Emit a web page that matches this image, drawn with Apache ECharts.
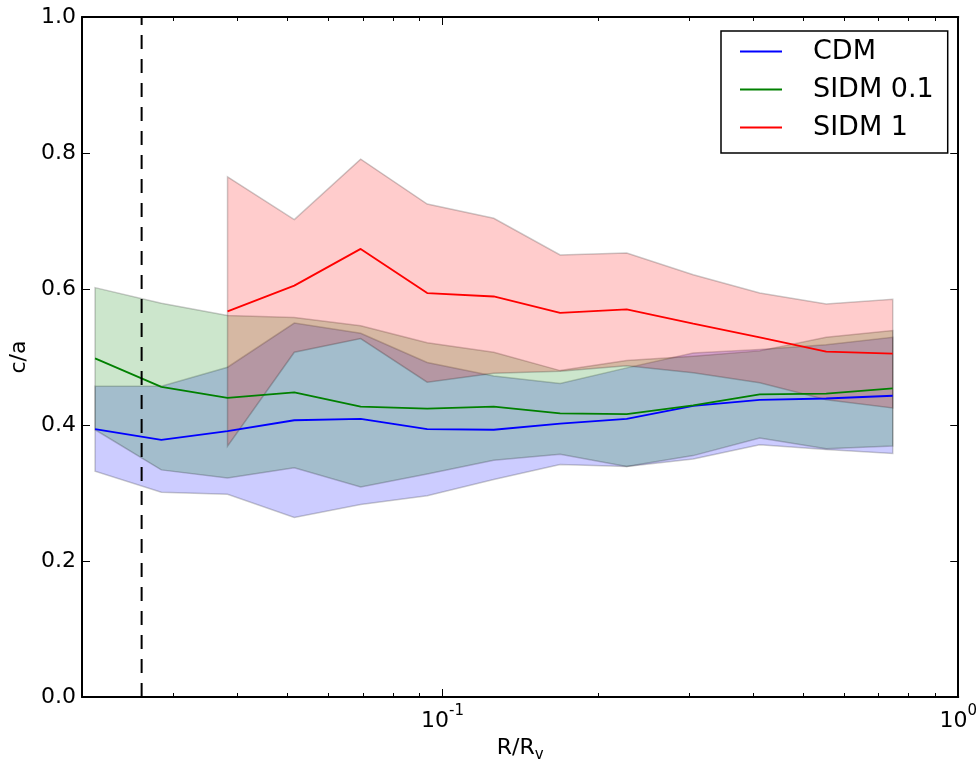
<!DOCTYPE html>
<html>
<head>
<meta charset="utf-8">
<script src="https://cdn.jsdelivr.net/npm/echarts@6/dist/echarts.min.js"></script>
<style>
  html, body { margin: 0; padding: 0; background: #ffffff; }
  #chart { width: 980px; height: 769px; }
</style>
</head>
<body>
<div id="chart"></div>
<script>
// Radial bins (R / R_v) shared by all three models
const radius = [0.0212, 0.0285, 0.0383, 0.0516, 0.0694, 0.0934, 0.1257, 0.1691, 0.2276, 0.3063, 0.4122, 0.5547, 0.7465];

// CDM: median c/a and scatter band
const cdmMedian = [0.394, 0.378, 0.391, 0.407, 0.409, 0.394, 0.393, 0.402, 0.409, 0.428, 0.437, 0.439, 0.443];
const cdmLower  = [0.332, 0.301, 0.298, 0.264, 0.283, 0.296, 0.320, 0.342, 0.339, 0.350, 0.371, 0.364, 0.358];
const cdmUpper  = [0.457, 0.457, 0.485, 0.550, 0.535, 0.492, 0.472, 0.461, 0.484, 0.506, 0.511, 0.518, 0.529];

// SIDM with sigma/m = 0.1
const sidm01Median = [0.498, 0.456, 0.440, 0.448, 0.427, 0.424, 0.427, 0.417, 0.416, 0.429, 0.445, 0.446, 0.454];
const sidm01Lower  = [0.393, 0.334, 0.322, 0.337, 0.309, 0.328, 0.348, 0.357, 0.339, 0.355, 0.381, 0.365, 0.369];
const sidm01Upper  = [0.602, 0.579, 0.561, 0.558, 0.546, 0.521, 0.507, 0.480, 0.495, 0.501, 0.509, 0.529, 0.539];

// SIDM with sigma/m = 1 (not resolved in the two innermost bins)
const sidm1Median = [null, null, 0.567, 0.605, 0.659, 0.594, 0.589, 0.565, 0.570, 0.549, 0.529, 0.508, 0.505];
const sidm1Lower  = [null, null, 0.369, 0.507, 0.527, 0.463, 0.476, 0.479, 0.487, 0.477, 0.462, 0.437, 0.425];
const sidm1Upper  = [null, null, 0.765, 0.702, 0.791, 0.725, 0.704, 0.650, 0.653, 0.621, 0.594, 0.578, 0.585];

// Convergence radius marker
const convergenceRadius = 0.0261;

// Minor ticks of the logarithmic radius axis
const minorTickValues = [0.03, 0.04, 0.05, 0.06, 0.07, 0.08, 0.09, 0.2, 0.3, 0.4, 0.5, 0.6, 0.7, 0.8, 0.9];

const FONT = 'DejaVu Sans';

function pairs(values) {
  const out = [];
  radius.forEach((r, i) => { if (values[i] != null) out.push([r, values[i]]); });
  return out;
}

// Shaded band drawn as one closed polygon (upper edge, then lower edge back)
function band(name, lower, upper, fill) {
  const data = [];
  radius.forEach((r, i) => { if (lower[i] != null) data.push([r, lower[i], upper[i]]); });
  return {
    type: 'custom',
    name: name,
    silent: true,
    z: 2,
    data: data,
    encode: { x: 0, y: [1, 2] },
    renderItem: function (params, api) {
      if (params.dataIndexInside !== 0) return null;
      const n = params.dataInsideLength;
      const top = [], bottom = [];
      for (let i = 0; i < n; i++) {
        const x = api.value(0, i);
        top.push(api.coord([x, api.value(2, i)]));
        bottom.push(api.coord([x, api.value(1, i)]));
      }
      return {
        type: 'polygon',
        shape: { points: top.concat(bottom.reverse()) },
        style: { fill: fill, stroke: 'rgba(0,0,0,0.2)', lineWidth: 1.5 }
      };
    }
  };
}

function medianLine(name, values, color) {
  return {
    type: 'line',
    name: name,
    data: pairs(values),
    symbol: 'none',
    showSymbol: false,
    z: 4,
    lineStyle: { color: color, width: 1.8 },
    itemStyle: { color: color },
    emphasis: { disabled: true }
  };
}

function powerLabel(value) {
  const lg = Math.log10(value);
  const e = Math.round(lg);
  if (Math.abs(lg - e) > 1e-6) return '';
  return '{b|10}{s|' + e + '}';
}

const spine = { onZero: false, lineStyle: { color: '#000', width: 2 } };
const majorTick = { inside: true, length: 8, lineStyle: { color: '#000', width: 1 } };

const option = {
  animation: false,
  backgroundColor: '#ffffff',
  grid: { left: 82, right: 18, top: 17, bottom: 72, containLabel: false },
  legend: {
    data: ['CDM', 'SIDM 0.1', 'SIDM 1'],
    orient: 'vertical',
    left: 721,
    top: 31,
    icon: 'rect',
    itemWidth: 42,
    itemHeight: 2,
    itemGap: 11,
    padding: [7, 14, 12, 19],
    borderColor: '#000',
    borderWidth: 1.5,
    borderRadius: 0,
    backgroundColor: '#ffffff',
    selectedMode: false,
    formatter: function (name) { return '{t|' + name + '}'; },
    textStyle: {
      rich: { t: { fontFamily: FONT, fontSize: 27, color: '#000', padding: [0, 0, 0, 26], lineHeight: 30 } }
    }
  },
  xAxis: [
    {
      type: 'log', logBase: 10, min: 0.02, max: 1, position: 'bottom',
      axisLine: spine, axisTick: majorTick,
      splitLine: { show: false }, minorTick: { show: false },
      axisLabel: {
        margin: 7,
        formatter: powerLabel,
        rich: {
          b: { fontFamily: FONT, fontSize: 22, color: '#000', lineHeight: 28, verticalAlign: 'bottom' },
          s: { fontFamily: FONT, fontSize: 15, color: '#000', lineHeight: 16, verticalAlign: 'top' }
        }
      },
      name: '{a|R/R}{s|v}',
      nameLocation: 'middle',
      nameGap: 36,
      nameTextStyle: {
        rich: {
          a: { fontFamily: FONT, fontSize: 22, color: '#000', lineHeight: 26, verticalAlign: 'top' },
          s: { fontFamily: FONT, fontSize: 15, color: '#000', lineHeight: 16, verticalAlign: 'bottom' }
        }
      }
    },
    {
      type: 'log', logBase: 10, min: 0.02, max: 1, position: 'top',
      axisLine: spine, axisTick: majorTick,
      splitLine: { show: false }, axisLabel: { show: false }
    }
  ],
  yAxis: [
    {
      type: 'value', min: 0, max: 1, interval: 0.2, position: 'left',
      axisLine: spine, axisTick: majorTick, splitLine: { show: false },
      axisLabel: {
        margin: 6, fontFamily: FONT, fontSize: 22, color: '#000',
        formatter: function (v) { return v.toFixed(1); }
      },
      name: 'c/a', nameLocation: 'middle', nameRotate: 90, nameGap: 52,
      nameTextStyle: { fontFamily: FONT, fontSize: 22, color: '#000' }
    },
    {
      type: 'value', min: 0, max: 1, interval: 0.2, position: 'right',
      axisLine: spine, axisTick: majorTick, splitLine: { show: false },
      axisLabel: { show: false }
    }
  ],
  series: [
    band('CDM range', cdmLower, cdmUpper, 'rgba(0,0,255,0.2)'),
    band('SIDM 0.1 range', sidm01Lower, sidm01Upper, 'rgba(0,128,0,0.2)'),
    band('SIDM 1 range', sidm1Lower, sidm1Upper, 'rgba(255,0,0,0.2)'),
    medianLine('CDM', cdmMedian, '#0000ff'),
    medianLine('SIDM 0.1', sidm01Median, '#008000'),
    medianLine('SIDM 1', sidm1Median, '#ff0000'),
    {
      type: 'line',
      name: 'convergence',
      data: [[convergenceRadius, 0], [convergenceRadius, 1]],
      symbol: 'none',
      silent: true,
      z: 5,
      lineStyle: { color: '#000', width: 2, type: [14, 10] },
      emphasis: { disabled: true }
    },
    {
      type: 'custom',
      name: 'minor ticks',
      silent: true,
      z: 6,
      data: minorTickValues.map(function (v) { return [v, 0]; }),
      encode: { x: 0, y: 1 },
      renderItem: function (params, api) {
        const x = api.value(0);
        const b = api.coord([x, 0]);
        const t = api.coord([x, 1]);
        const px = Math.round(b[0]) + 0.5;
        return {
          type: 'group',
          children: [
            { type: 'line', shape: { x1: px, y1: b[1], x2: px, y2: b[1] - 4 }, style: { stroke: '#000', lineWidth: 1 } },
            { type: 'line', shape: { x1: px, y1: t[1], x2: px, y2: t[1] + 4 }, style: { stroke: '#000', lineWidth: 1 } }
          ]
        };
      }
    }
  ]
};

const chart = echarts.init(document.getElementById('chart'), null, { renderer: 'canvas' });
chart.setOption(option);
</script>
</body>
</html>
